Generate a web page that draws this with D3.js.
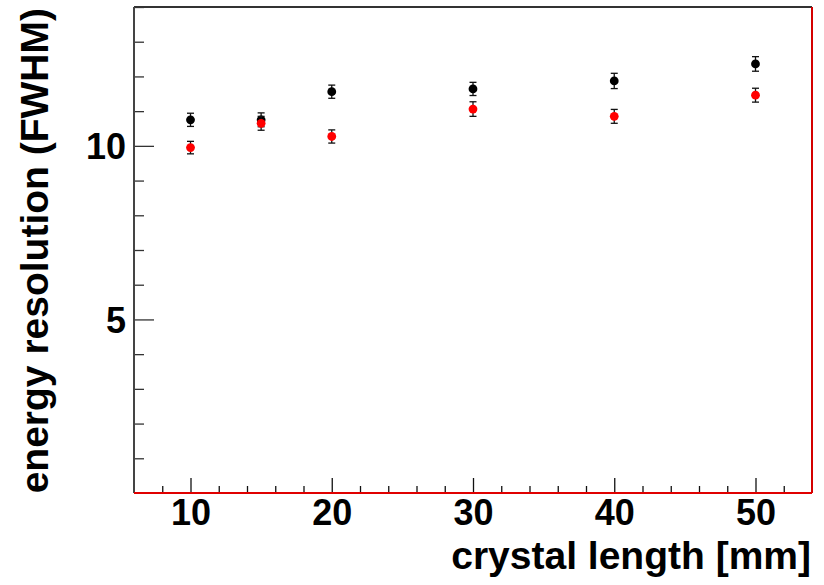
<!DOCTYPE html>
<html>
<head>
<meta charset="utf-8">
<script src="https://cdn.jsdelivr.net/npm/d3@7"></script>
<style>
  html, body { margin: 0; padding: 0; background: #fff; }
  svg { display: block; }
  text { font-family: "Liberation Sans", Arial, Helvetica, sans-serif; font-weight: bold; fill: #000; }
</style>
</head>
<body>
<svg id="chart" width="824" height="585"></svg>
<script>
// crystal lengths in mm
const lengths = [10, 15, 20, 30, 40, 50];
// energy resolution (FWHM) for the two measurement sets
const resBlack = [10.75, 10.75, 11.56, 11.64, 11.87, 12.36];
const errBlack = [0.19, 0.20, 0.19, 0.19, 0.22, 0.21];
const resRed = [9.95, 10.65, 10.27, 11.06, 10.85, 11.46];
const errRed = [0.18, 0.20, 0.19, 0.21, 0.20, 0.20];
// axis tick labels
const xTickLabels = [10, 20, 30, 40, 50];
const yTickLabels = [5, 10];

const svg = d3.select("#chart");
const frame = { left: 134, right: 812, top: 7, bottom: 493 };

const x = d3.scaleLinear().domain([6, 54]).range([frame.left, frame.right]);
const y = d3.scaleLinear().domain([0, 14]).range([frame.bottom, frame.top]);

// x axis: major ticks every 10, minor every 2
const xMinor = d3.range(8, 54, 2).filter(v => v % 10 !== 0);
const gx = svg.append("g").attr("transform", `translate(0,${frame.bottom})`);
gx.call(d3.axisBottom(x).tickValues(xMinor).tickSize(-7).tickFormat(""))
  .call(g => g.select(".domain").remove());
gx.append("g").call(d3.axisBottom(x).tickValues(xTickLabels).tickSize(-15).tickFormat(d3.format("d")))
  .call(g => g.select(".domain").remove())
  .call(g => g.selectAll("text").attr("font-size", 36).attr("dy", null).attr("y", 32));
gx.selectAll(".tick line").attr("stroke", "#111").attr("stroke-width", 1.3);

// y axis: major ticks at 5 and 10, minor every 1
const yMinor = d3.range(1, 15).filter(v => v % 5 !== 0);
const gy = svg.append("g").attr("transform", `translate(${frame.left},0)`);
gy.call(d3.axisLeft(y).tickValues(yMinor).tickSize(-10).tickFormat(""))
  .call(g => g.select(".domain").remove());
gy.append("g").call(d3.axisLeft(y).tickValues(yTickLabels).tickSize(-20).tickFormat(d3.format("d")))
  .call(g => g.select(".domain").remove())
  .call(g => g.selectAll("text").attr("font-size", 36).attr("x", -8).attr("dy", "0.36em"));
gy.selectAll(".tick line").attr("stroke", "#333").attr("stroke-width", 1.3);

// frame
svg.append("line").attr("x1", frame.left).attr("x2", frame.right).attr("y1", frame.top).attr("y2", frame.top)
  .attr("stroke", "#333").attr("stroke-width", 1.8);
svg.append("line").attr("x1", frame.left).attr("x2", frame.left).attr("y1", frame.top).attr("y2", frame.bottom)
  .attr("stroke", "#444").attr("stroke-width", 2);
svg.append("line").attr("x1", frame.right).attr("x2", frame.right).attr("y1", frame.top).attr("y2", frame.bottom)
  .attr("stroke", "#d40000").attr("stroke-width", 2);
svg.append("line").attr("x1", frame.left).attr("x2", frame.right).attr("y1", frame.bottom).attr("y2", frame.bottom)
  .attr("stroke", "#e00000").attr("stroke-width", 2);

// data series with error bars
function drawSeries(vals, errs, color) {
  const pts = lengths.map((l, i) => ({ l, v: vals[i], e: errs[i] }));
  const g = svg.append("g");
  const eb = g.selectAll("g.err").data(pts).join("g").attr("class", "err")
    .attr("stroke", "#111").attr("stroke-width", 1.3);
  eb.append("line").attr("x1", d => x(d.l)).attr("x2", d => x(d.l))
    .attr("y1", d => y(d.v + d.e)).attr("y2", d => y(d.v - d.e));
  eb.append("line").attr("x1", d => x(d.l) - 3.5).attr("x2", d => x(d.l) + 3.5)
    .attr("y1", d => y(d.v + d.e)).attr("y2", d => y(d.v + d.e));
  eb.append("line").attr("x1", d => x(d.l) - 3.5).attr("x2", d => x(d.l) + 3.5)
    .attr("y1", d => y(d.v - d.e)).attr("y2", d => y(d.v - d.e));
  g.selectAll("circle").data(pts).join("circle")
    .attr("cx", d => x(d.l)).attr("cy", d => y(d.v)).attr("r", 4.4).attr("fill", color);
}
drawSeries(resBlack, errBlack, "#000");
drawSeries(resRed, errRed, "#ff0000");

// axis titles
svg.append("text").attr("x", frame.right - 1).attr("y", 569).attr("text-anchor", "end")
  .attr("font-size", 39).text("crystal length [mm]");
svg.append("text").attr("transform", `translate(48,${frame.top + 1}) rotate(-90)`).attr("text-anchor", "end")
  .attr("font-size", 39).text("energy resolution (FWHM)");
</script>
</body>
</html>
